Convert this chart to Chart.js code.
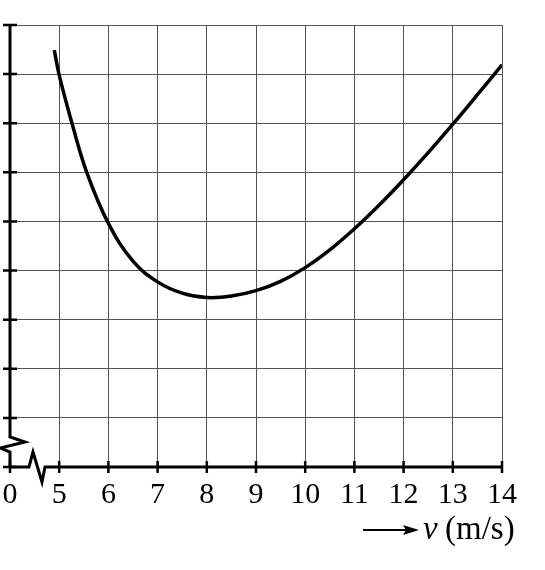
<!DOCTYPE html>
<html lang="en">
<head>
<meta charset="UTF-8">
<title>v (m/s)</title>
<script src="https://cdn.jsdelivr.net/npm/chart.js"></script>
<style>
  html, body { margin: 0; padding: 0; background: #fff; }
  #wrap { width: 545px; height: 570px; position: relative; }
</style>
</head>
<body>
<div id="wrap"><canvas id="chart"></canvas></div>
<script>
// data (y in grid units, no scale printed)
const speeds = [4.9, 5.0, 5.26, 5.56, 6.0, 6.5, 7.0, 7.5, 8.0, 8.5, 9.0, 9.5, 10.0, 10.5, 11.0, 11.5, 12.0, 12.5, 13.0, 13.5, 14.0];
const values = [8.49, 7.98, 7.0, 6.0, 4.96, 4.19, 3.77, 3.54, 3.45, 3.48, 3.59, 3.78, 4.06, 4.42, 4.85, 5.33, 5.85, 6.4, 6.98, 7.58, 8.19];
// first tick stands for the broken-off origin
const xTickValues = [4, 5, 6, 7, 8, 9, 10, 11, 12, 13, 14];
const xTickLabels = ['0', '5', '6', '7', '8', '9', '10', '11', '12', '13', '14'];

const serif = 'Liberation Serif';

// axes with breaks, crossing ticks and the arrow label
const axisPlugin = {
    id: 'brokenAxes',
    afterDraw(chart) {
        const ctx = chart.ctx;
        const xs = chart.scales.x, ys = chart.scales.y;
        const x0 = xs.getPixelForValue(4);
        const y0 = ys.getPixelForValue(0);
        const top = ys.getPixelForValue(9);
        const right = xs.getPixelForValue(14);
        ctx.save();
        ctx.strokeStyle = '#000';
        ctx.lineJoin = 'miter';

        // y axis with zigzag near the bottom
        ctx.lineWidth = 3;
        ctx.beginPath();
        ctx.moveTo(x0, top);
        ctx.lineTo(x0, y0 - 30);
        ctx.lineTo(x0 + 15, y0 - 25);
        ctx.lineTo(x0 - 10, y0 - 19);
        ctx.lineTo(x0, y0 - 15);
        ctx.lineTo(x0, y0);
        ctx.stroke();

        // x axis with zigzag after the origin
        ctx.beginPath();
        ctx.moveTo(x0, y0);
        ctx.lineTo(x0 + 19, y0);
        ctx.lineTo(x0 + 23, y0 - 15);
        ctx.lineTo(x0 + 32, y0 + 15);
        ctx.lineTo(x0 + 35, y0);
        ctx.lineTo(right, y0);
        ctx.stroke();

        // crossing ticks
        ctx.lineWidth = 2.5;
        ctx.beginPath();
        for (let v = 0; v <= 9; v++) {
            const py = ys.getPixelForValue(v);
            ctx.moveTo(x0 - 7, py);
            ctx.lineTo(x0 + 7, py);
        }
        xTickValues.forEach(v => {
            const px = xs.getPixelForValue(v);
            ctx.moveTo(px, y0 - 6);
            ctx.lineTo(px, y0 + 6);
        });
        ctx.stroke();

        // arrow + axis title
        const ay = 530;
        ctx.lineWidth = 2;
        ctx.beginPath();
        ctx.moveTo(363, ay);
        ctx.lineTo(408, ay);
        ctx.stroke();
        ctx.beginPath();
        ctx.moveTo(419, ay);
        ctx.lineTo(403, ay - 5);
        ctx.lineTo(406, ay);
        ctx.lineTo(403, ay + 5);
        ctx.closePath();
        ctx.fillStyle = '#000';
        ctx.fill();

        ctx.textBaseline = 'alphabetic';
        ctx.textAlign = 'left';
        ctx.font = 'italic 33px "' + serif + '"';
        ctx.fillText('v', 423, 539);
        ctx.font = '33px "' + serif + '"';
        ctx.fillText('(m/s)', 445, 539);
        ctx.restore();
    }
};

const gridColor = '#555';

new Chart(document.getElementById('chart'), {
    type: 'line',
    data: {
        datasets: [{
            data: speeds.map((v, i) => ({ x: v, y: values[i] })),
            borderColor: '#000',
            borderWidth: 3.5,
            pointRadius: 0,
            tension: 0.4,
            fill: false
        }]
    },
    options: {
        responsive: true,
        maintainAspectRatio: false,
        animation: false,
        layout: { padding: { left: 10, top: 25, right: 43, bottom: 0 } },
        plugins: {
            legend: { display: false },
            tooltip: { enabled: false }
        },
        scales: {
            x: {
                type: 'linear',
                min: 4,
                max: 14,
                afterBuildTicks: scale => {
                    scale.ticks = xTickValues.map(v => ({ value: v }));
                },
                afterFit: scale => {
                    scale.height = 103;
                    scale.paddingLeft = 0;
                    scale.paddingRight = 0;
                },
                border: { display: false },
                grid: {
                    drawTicks: false,
                    lineWidth: 1,
                    color: c => (c.tick && c.tick.value === 4) ? 'rgba(0,0,0,0)' : gridColor
                },
                ticks: {
                    autoSkip: false,
                    maxRotation: 0,
                    padding: 10,
                    color: '#000',
                    font: { family: serif, size: 30 },
                    callback: v => xTickLabels[xTickValues.indexOf(v)]
                }
            },
            y: {
                type: 'linear',
                min: 0,
                max: 9,
                afterFit: scale => { scale.width = 0; },
                border: { display: false },
                grid: {
                    drawTicks: false,
                    lineWidth: 1,
                    color: c => (c.tick && c.tick.value === 0) ? 'rgba(0,0,0,0)' : gridColor
                },
                ticks: { display: false, stepSize: 1 }
            }
        }
    },
    plugins: [axisPlugin]
});
</script>
</body>
</html>
